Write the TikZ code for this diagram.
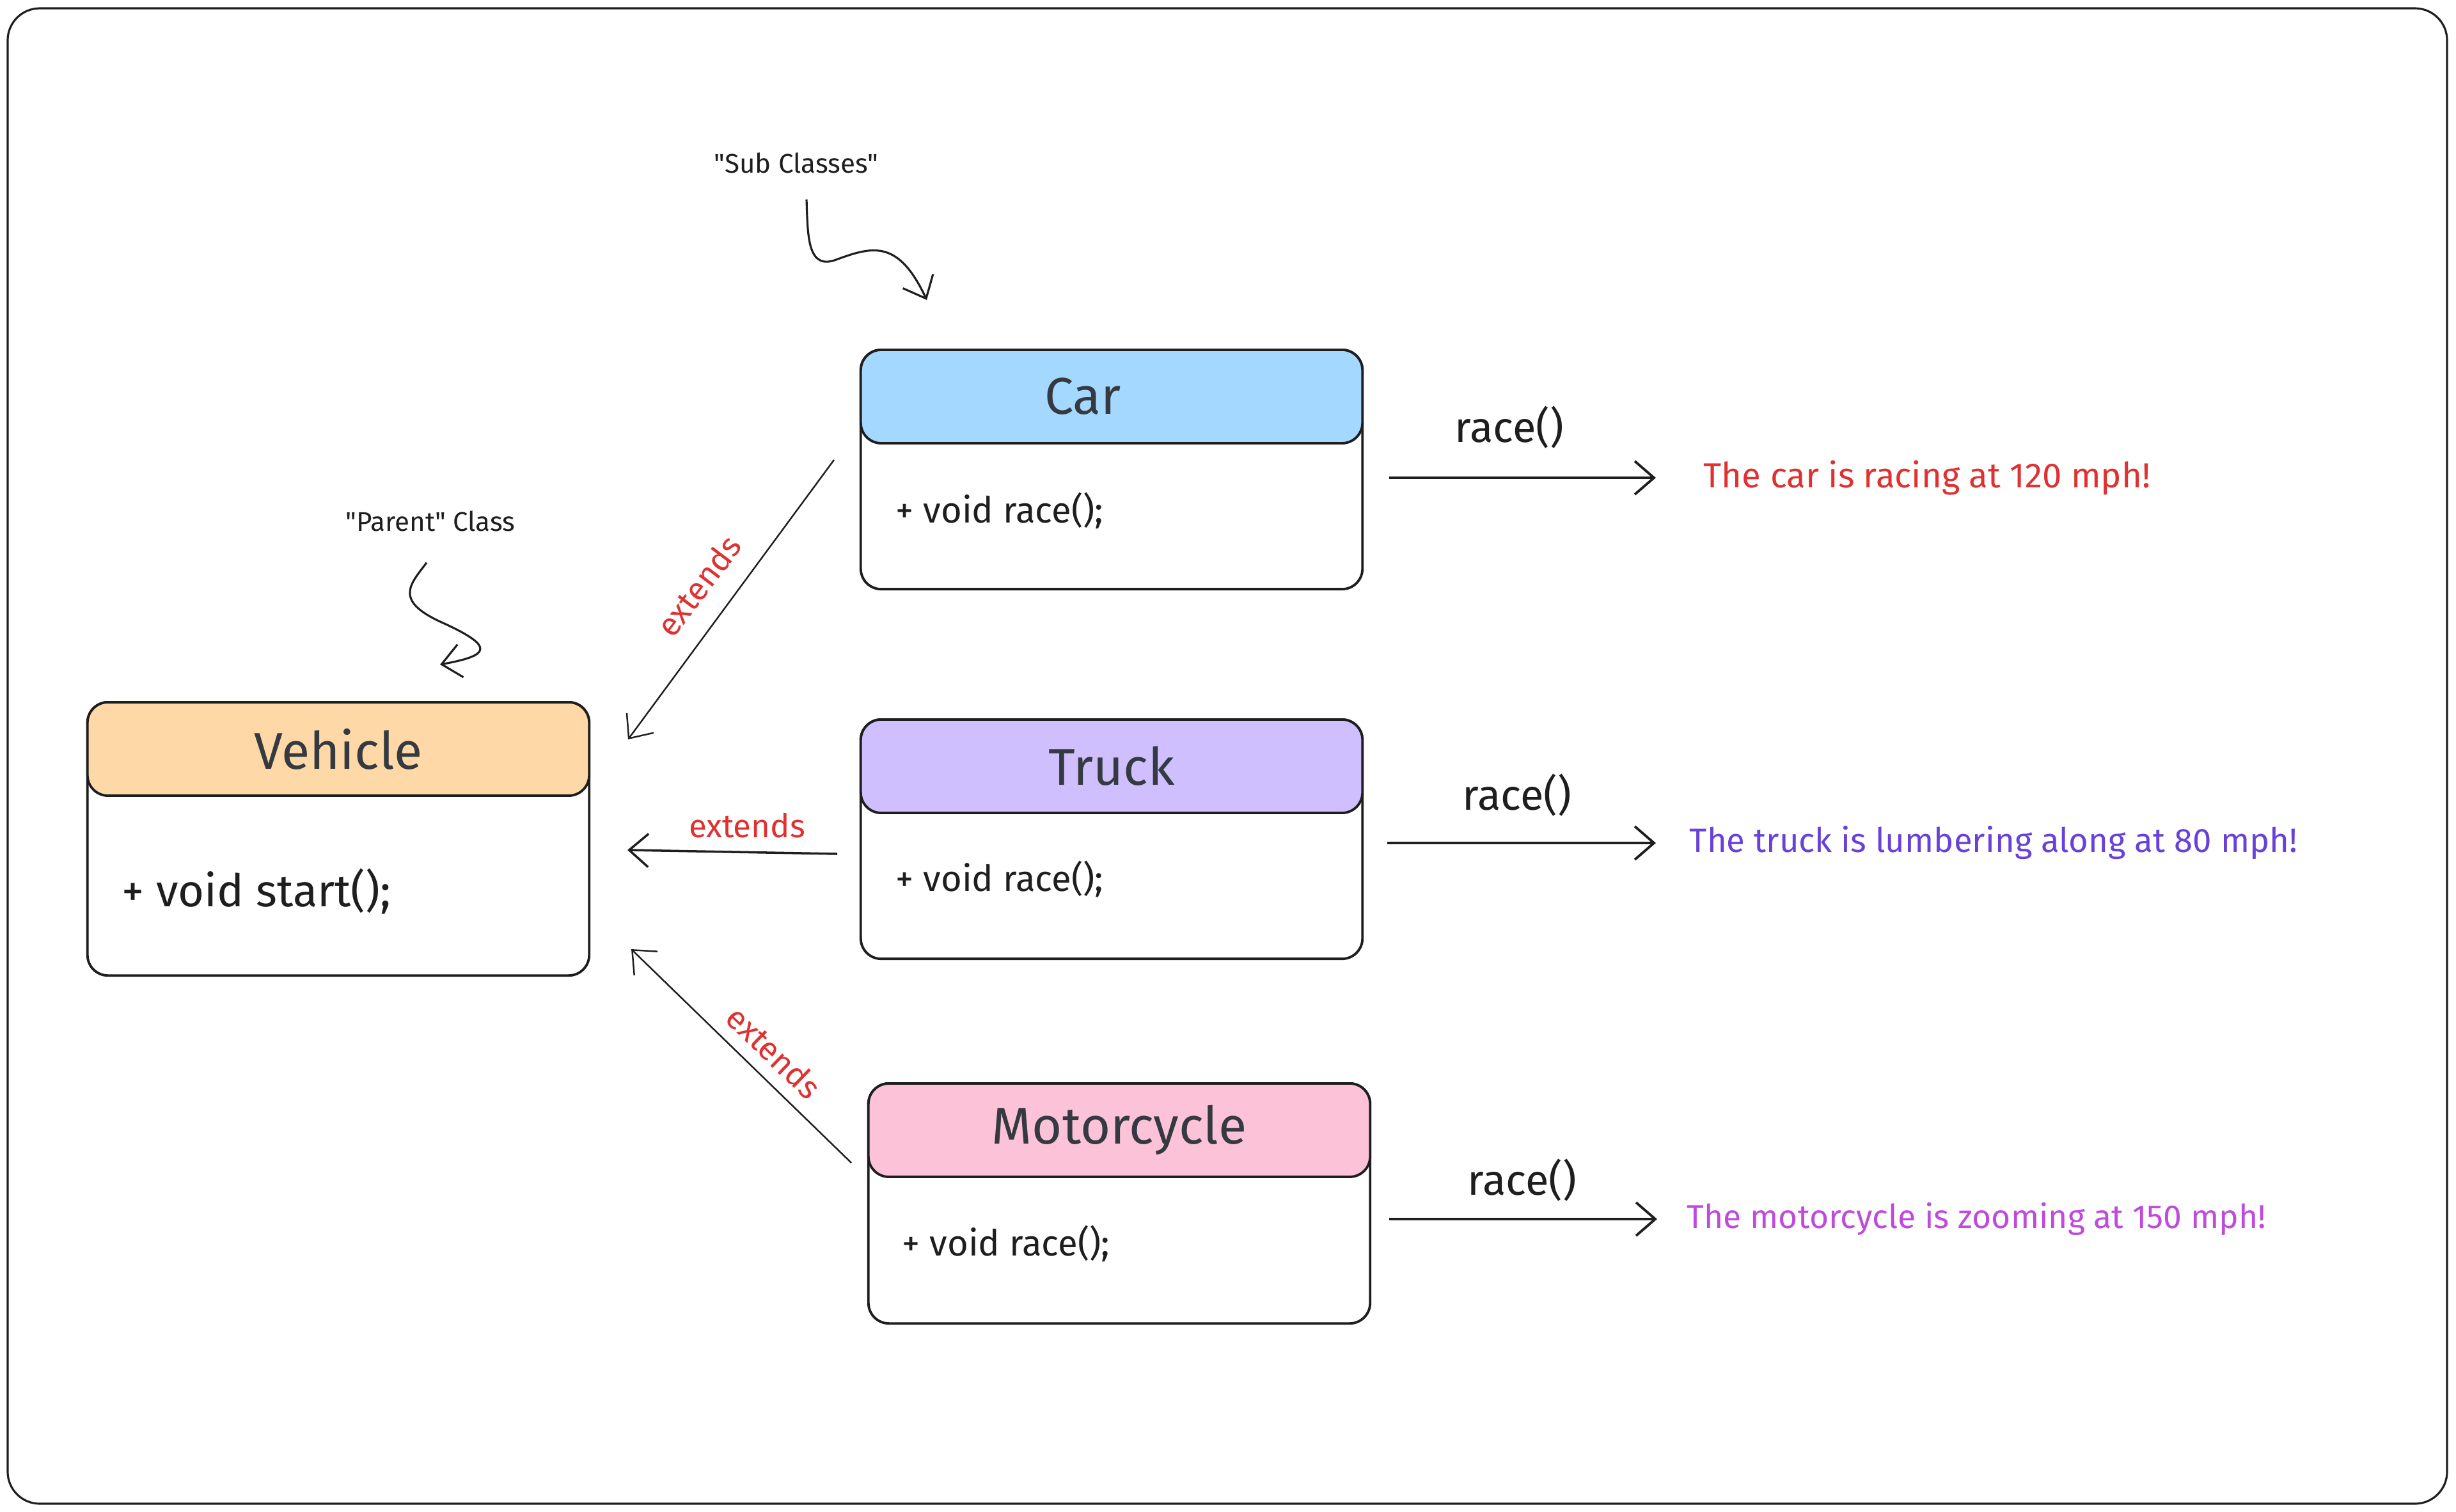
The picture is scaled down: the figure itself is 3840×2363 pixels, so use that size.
\documentclass[tikz,border=0pt]{standalone}
\usepackage{fontspec}
\setmainfont{Fira Sans}
\usetikzlibrary{arrows.meta}
\definecolor{inkColor}{HTML}{1E1E1E}
\definecolor{titleColor}{HTML}{343A40}
\definecolor{carFill}{HTML}{A5D8FF}
\definecolor{truckFill}{HTML}{D0BFFF}
\definecolor{motoFill}{HTML}{FCC2D7}
\definecolor{vehicleFill}{HTML}{FFD8A8}
\definecolor{carText}{HTML}{E03131}
\definecolor{truckText}{HTML}{6741D9}
\definecolor{motoText}{HTML}{BE4BDB}
\begin{document}
\begin{tikzpicture}[x=0.01cm, y=-0.01cm,
    bodyStyle/.style={rectangle, draw=inkColor, line width=1.1pt, rounded corners=0.32cm, fill=white, minimum width=7.84cm, anchor=north, inner sep=0pt},
    headStyle/.style={rectangle, draw=inkColor, line width=1.1pt, rounded corners=0.32cm, minimum width=7.84cm, minimum height=1.46cm, anchor=north, inner sep=0pt, text=titleColor, font=\fontsize{23}{28}\selectfont},
    methodStyle/.style={anchor=west, inner sep=0pt, text=inkColor, font=\fontsize{16}{19}\selectfont},
    noteStyle/.style={inner sep=0pt, text=inkColor, font=\fontsize{12}{14}\selectfont},
    extLabel/.style={inner sep=0pt, text=carText, font=\fontsize{14.5}{17}\selectfont},
    raceLabel/.style={inner sep=0pt, text=inkColor, font=\fontsize{19}{22}\selectfont},
    msgStyle/.style={anchor=west, inner sep=0pt, font=\fontsize{15.5}{18}\selectfont},
    extArrow/.style={->, draw=inkColor, line width=0.7pt},
    raceArrow/.style={->, draw=inkColor, line width=1.1pt},
    noteArrow/.style={->, draw=inkColor, line width=0.9pt},
    >={Straight Barb[length=0.3cm, width=0.52cm]}]
    \useasboundingbox (0,0) rectangle (3840,2363);
    \draw[inkColor, line width=0.9pt, rounded corners=0.5cm] (12,13) rectangle (3826,2351);

    \node[bodyStyle, minimum height=4.27cm] (vehicleBody) at (529,1096) {};
    \node[headStyle, fill=vehicleFill] (vehicleHead) at (529,1096) {Vehicle};
    \node[methodStyle, font=\fontsize{20}{24}\selectfont] (vehicleStart) at (190,1394) {+ void start();};

    \node[bodyStyle, minimum height=3.74cm] (carBody) at (1738,545) {};
    \node[headStyle, fill=carFill] (carHead) at (1738,545) {\hspace*{-0.9cm}Car};
    \node[methodStyle] (carRace) at (1400,798) {+ void race();};

    \node[bodyStyle, minimum height=3.74cm] (truckBody) at (1738,1123) {};
    \node[headStyle, fill=truckFill] (truckHead) at (1738,1123) {Truck};
    \node[methodStyle] (truckRace) at (1400,1374) {+ void race();};

    \node[bodyStyle, minimum height=3.75cm] (motoBody) at (1750,1692) {};
    \node[headStyle, fill=motoFill] (motoHead) at (1750,1692) {Motorcycle};
    \node[methodStyle] (motoRace) at (1410,1944) {+ void race();};

    \node[noteStyle] (subNote) at (1245,255) {\textquotedbl Sub Classes\textquotedbl};
    \node[noteStyle] (parentNote) at (673,815) {\textquotedbl Parent\textquotedbl{} Class};
    \coordinate (subTip) at (1449,469);
    \coordinate (parentTip) at (688,1039);
    \draw[noteArrow] (subNote.south) ++(16,40) .. controls (1263,370) and (1262,425) .. (1310,405) .. controls (1365,385) and (1405,375) .. (subTip);
    \draw[noteArrow] (parentNote.south) ++(-6,48) .. controls (640,915) and (615,940) .. (695,975) .. controls (775,1012) and (765,1025) .. (parentTip);

    \coordinate (carExtS) at (1304,719);
    \coordinate (carExtE) at (982,1156);
    \coordinate (truckExtS) at (1309,1335);
    \coordinate (truckExtE) at (981,1329);
    \coordinate (motoExtS) at (1331,1818);
    \coordinate (motoExtE) at (987,1484);
    \draw[extArrow] (carExtS) -- (carExtE);
    \draw[extArrow, line width=1pt] (truckExtS) -- (truckExtE);
    \draw[extArrow] (motoExtS) -- (motoExtE);
    \node[extLabel, rotate=53] (carExt) at (1092,916) {extends};
    \node[extLabel] (truckExt) at (1168,1291) {extends};
    \node[extLabel, rotate=-44] (motoExt) at (1210,1645) {extends};

    \node[msgStyle, text=carText] (carMsg) at (2663,747) {The car is racing at 120 mph!};
    \node[msgStyle, text=truckText, font=\fontsize{15}{18}\selectfont] (truckMsg) at (2641,1318) {The truck is lumbering along at 80 mph!};
    \node[msgStyle, text=motoText, font=\fontsize{14.7}{18}\selectfont] (motoMsg) at (2637,1906) {The motorcycle is zooming at 150 mph!};
    \draw[raceArrow, shorten <=0.4cm, shorten >=0.74cm] (carBody.east |- carMsg.west) -- (carMsg.west);
    \draw[raceArrow, shorten <=0.37cm, shorten >=0.52cm] (truckBody.east |- truckMsg.west) -- (truckMsg.west);
    \draw[raceArrow, shorten <=0.28cm, shorten >=0.46cm] (motoBody.east |- motoMsg.west) -- (motoMsg.west);
    \node[raceLabel] (carCall) at (2360,668) {race()};
    \node[raceLabel] (truckCall) at (2372,1243) {race()};
    \node[raceLabel] (motoCall) at (2380,1845) {race()};
\end{tikzpicture}
\end{document}
